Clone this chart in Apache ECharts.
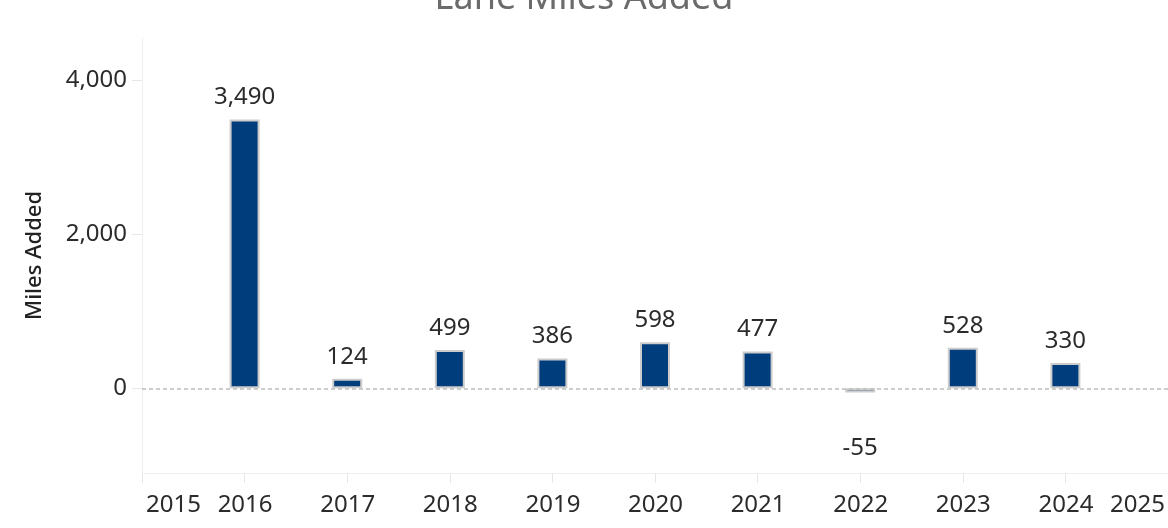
<!DOCTYPE html>
<html>
<head>
<meta charset="utf-8">
<script src="https://cdn.jsdelivr.net/npm/echarts@6/dist/echarts.min.js"></script>
<style>
  html, body { margin: 0; padding: 0; background: #fff; }
  #chart { width: 1168px; height: 528px; }
</style>
</head>
<body>
<div id="chart"></div>
<script>
// years on the axis (2015 and 2025 are only edge labels, no bars)
var years = ['2015', '2016', '2017', '2018', '2019', '2020', '2021', '2022', '2023', '2024', '2025']
var milesAdded = [null, 3490, 124, 499, 386, 598, 477, -55, 528, 330, null]
var yTicks = [0, 2000, 4000]

var fontFamily = '"Noto Sans", "Open Sans", sans-serif'
var fmt = function (v) { return Number(v).toLocaleString('en-US') }

var myChart = echarts.init(document.getElementById('chart'))

// negative value label sits far under the zero line, like the original
var barData = milesAdded.map(function (v) {
  if (v !== null && v < 0) {
    return { value: v, label: { position: 'bottom', distance: 44 } }
  }
  return v
})

var option = {
  animation: false,
  textStyle: { fontFamily: fontFamily },
  title: {
    text: 'Lane Miles Added',
    left: 'center',
    top: -24,
    textStyle: { fontSize: 36, fontWeight: 'normal', color: '#6b6b6b', fontFamily: fontFamily }
  },
  grid: { left: 142, right: -3, top: 38, bottom: 55 },
  xAxis: {
    type: 'category',
    data: years,
    boundaryGap: false,
    axisLine: { onZero: false, lineStyle: { color: '#efefef', width: 1 } },
    axisTick: { show: true, length: 10, lineStyle: { color: '#e6e6e6' } },
    axisLabel: {
      fontSize: 24,
      color: '#2b2b2b',
      margin: 20,
      interval: 0,
      alignMinLabel: 'left',
      alignMaxLabel: 'right',
      padding: [0, 3, 0, 4]
    },
    splitLine: { show: false }
  },
  yAxis: {
    type: 'value',
    min: -1100,
    max: 4550,
    name: 'Miles Added',
    nameLocation: 'middle',
    nameGap: 96,
    nameTextStyle: { fontSize: 22, fontWeight: 500, color: '#222' },
    axisLine: { show: true, lineStyle: { color: '#efefef', width: 1 } },
    axisTick: { show: true, length: 10, customValues: yTicks, lineStyle: { color: '#e6e6e6' } },
    axisLabel: {
      fontSize: 24,
      color: '#2b2b2b',
      margin: 15,
      customValues: yTicks,
      formatter: fmt
    },
    splitLine: { show: false }
  },
  series: [{
    type: 'bar',
    data: barData,
    barWidth: 30,
    itemStyle: { color: '#003d7c', borderColor: '#cccccc', borderWidth: 2 },
    label: {
      show: true,
      position: 'top',
      distance: 10,
      fontSize: 24,
      color: '#2b2b2b',
      formatter: function (p) { return fmt(p.value) }
    },
    markLine: {
      silent: true,
      symbol: 'none',
      label: { show: false },
      lineStyle: { type: [4, 3], color: '#bdbdbd', width: 1.5 },
      data: [{ yAxis: 0 }]
    }
  }]
}

myChart.setOption(option)
</script>
</body>
</html>
